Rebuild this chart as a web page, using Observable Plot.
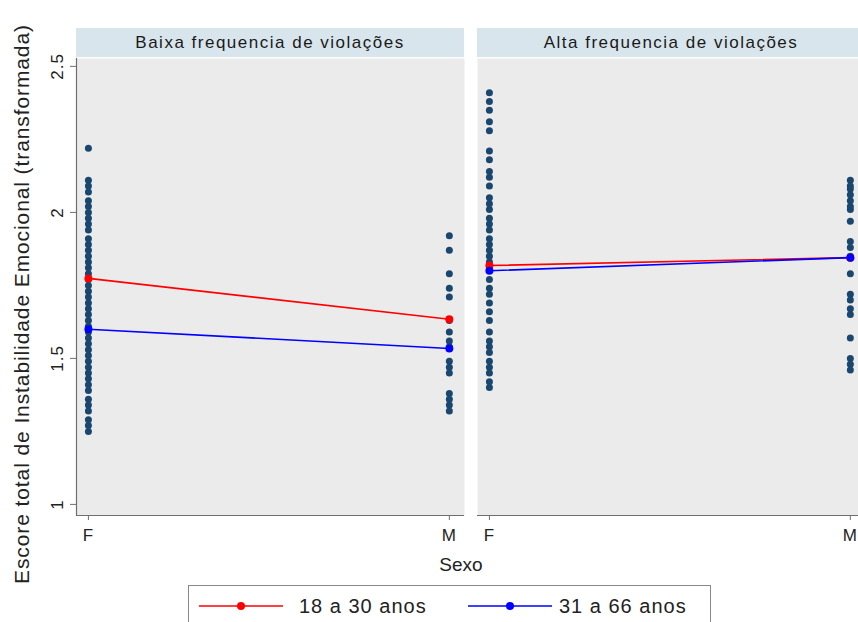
<!DOCTYPE html>
<html><head><meta charset="utf-8">
<script src="https://cdn.jsdelivr.net/npm/d3@7"></script>
<script src="https://cdn.jsdelivr.net/npm/@observablehq/plot@0.6"></script>
<style>
body{margin:0;background:#fff;overflow:hidden;font-family:"Liberation Sans",Arial,sans-serif}
#wrap{position:relative;width:858px;height:622px;overflow:hidden;background:#fff;color:#222}
.abs{position:absolute}
.strip{position:absolute;top:28px;height:29px;line-height:29px;background:#d9e5ec;color:#1a1a1a;font-size:17px;letter-spacing:1.5px;text-align:center;white-space:nowrap}
svg{overflow:visible}
</style></head><body><div id="wrap"></div>
<script>
// ---- data ----
const panels = ["Baixa frequencia de violações", "Alta frequencia de violações"];
const sexLabels = ["F", "M"];
const lowF = [2.22, 2.11, 2.09, 2.07, 2.04, 2.02, 2.00, 1.98, 1.96, 1.94, 1.91, 1.89, 1.87, 1.85, 1.83, 1.81, 1.79, 1.77, 1.75, 1.73, 1.71, 1.69, 1.67, 1.65, 1.63, 1.61, 1.59, 1.57, 1.55, 1.53, 1.51, 1.49, 1.47, 1.45, 1.43, 1.41, 1.39, 1.36, 1.34, 1.32, 1.29, 1.27, 1.25];
const lowM = [1.92, 1.87, 1.79, 1.74, 1.71, 1.63, 1.59, 1.56, 1.54, 1.49, 1.47, 1.45, 1.38, 1.36, 1.34, 1.32];
const highF = [2.41, 2.38, 2.35, 2.31, 2.28, 2.21, 2.18, 2.14, 2.12, 2.09, 2.05, 2.03, 2.01, 1.98, 1.96, 1.94, 1.91, 1.89, 1.87, 1.85, 1.83, 1.81, 1.77, 1.74, 1.72, 1.69, 1.66, 1.63, 1.59, 1.56, 1.54, 1.52, 1.49, 1.47, 1.45, 1.42, 1.40];
const highM = [2.11, 2.09, 2.08, 2.06, 2.04, 2.02, 2.01, 1.97, 1.90, 1.88, 1.85, 1.79, 1.72, 1.70, 1.67, 1.65, 1.57, 1.50, 1.48, 1.46];
const ageGroups = ["18 a 30 anos", "31 a 66 anos"];
const groupColors = ["#ff0000", "#0000ff"];
const lowMeansYoung = [1.774, 1.634];   // F, M
const lowMeansOld = [1.600, 1.534];
const highMeansYoung = [1.818, 1.845];
const highMeansOld = [1.800, 1.845];
const yTicks = [1, 1.5, 2, 2.5];
const yTickLabels = ["1", "1.5", "2", "2.5"];
const yDomain = [0.962, 2.527];
const xDomain = [-0.033, 1.042];
const xTicks = [0, 1];

const wrap = document.getElementById("wrap");
const dotColor = "#1a476f";
const axisColor = "#6f6f6f";

function buildPoints(fVals, mVals) {
  return [...fVals.map(v => ({x: 0, y: v})), ...mVals.map(v => ({x: 1, y: v}))];
}
function buildMeans(young, old) {
  const out = [];
  [young, old].forEach((arr, gi) => arr.forEach((v, si) => out.push({x: si, y: v, group: ageGroups[gi]})));
  return out;
}

function panel(points, means, showY, left, mLeft) {
  const marks = [
    Plot.frame({fill: "#ebebeb", stroke: null}),
    Plot.ruleY([yDomain[0]], {stroke: axisColor, strokeWidth: 1.2}),
  ];
  if (showY) {
    marks.push(Plot.ruleX([xDomain[0]], {stroke: axisColor, strokeWidth: 1.2}));
    marks.push(Plot.axisY({ticks: yTicks, tickSize: 6, tickFormat: () => "", stroke: axisColor, label: null}));
    marks.push(Plot.text(yTicks, {x: xDomain[0], y: d => d, text: (d, i) => yTickLabels[i], rotate: -90, dx: -19, fontSize: 17, fill: "#222", textAnchor: "middle"}));
  }
  marks.push(
    Plot.axisX({ticks: xTicks, tickFormat: d => sexLabels[d], tickSize: 5, tickPadding: 8, fontSize: 17, stroke: axisColor, fill: "#222", label: null}),
    Plot.dot(points, {x: "x", y: "y", r: 3.5, fill: dotColor, stroke: null}),
    Plot.line(means, {x: "x", y: "y", z: "group", stroke: "group", strokeWidth: 1.6}),
    Plot.dot(means, {x: "x", y: "y", fill: "group", r: 4, stroke: null})
  );
  const svg = Plot.plot({
    width: 388 + mLeft + 1,
    height: 545,
    marginLeft: mLeft,
    marginRight: 1,
    marginTop: 58,
    marginBottom: 30,
    x: {domain: xDomain, axis: null},
    y: {domain: yDomain, axis: null},
    color: {domain: ageGroups, range: groupColors},
    style: {background: "transparent", fontFamily: "Liberation Sans, Arial, sans-serif", overflow: "visible", letterSpacing: "1px"},
    marks
  });
  svg.style.position = "absolute";
  svg.style.left = left + "px";
  svg.style.top = "0px";
  wrap.appendChild(svg);
}

panel(buildPoints(lowF, lowM), buildMeans(lowMeansYoung, lowMeansOld), true, 0, 76);
panel(buildPoints(highF, highM), buildMeans(highMeansYoung, highMeansOld), false, 477, 0);

// facet strips
function strip(text, left, width) {
  const d = document.createElement("div");
  d.className = "strip";
  d.style.left = left + "px";
  d.style.width = width + "px";
  d.textContent = text;
  wrap.appendChild(d);
}
strip(panels[0], 76, 388);
strip(panels[1], 477, 388);

// y title
const yt = document.createElement("div");
yt.textContent = "Escore total de Instabilidade Emocional (transformada)";
yt.style.cssText = "position:absolute;left:22px;top:304px;font-size:21px;letter-spacing:0.9px;white-space:nowrap;transform:translate(-50%,-50%) rotate(-90deg);color:#222";
wrap.appendChild(yt);

// x title
const xt = document.createElement("div");
xt.textContent = "Sexo";
xt.style.cssText = "position:absolute;left:461px;top:565px;font-size:19px;white-space:nowrap;transform:translate(-50%,-50%);color:#222";
wrap.appendChild(xt);

// legend
const lg = document.createElement("div");
lg.style.cssText = "position:absolute;left:188px;top:585px;width:523px;height:50px;border:1px solid #888;background:#fff;box-sizing:border-box";
wrap.appendChild(lg);
const ns = "http://www.w3.org/2000/svg";
const items = [{x: 11, tx: 111}, {x: 280, tx: 371}];
const lsvg = document.createElementNS(ns, "svg");
lsvg.setAttribute("width", 523); lsvg.setAttribute("height", 50);
lsvg.style.position = "absolute"; lsvg.style.left = "-1px"; lsvg.style.top = "-1px";
ageGroups.forEach((g, i) => {
  const it = items[i];
  const line = document.createElementNS(ns, "line");
  line.setAttribute("x1", it.x); line.setAttribute("x2", it.x + 84);
  line.setAttribute("y1", 21); line.setAttribute("y2", 21);
  line.setAttribute("stroke", groupColors[i]); line.setAttribute("stroke-width", 1.6);
  lsvg.appendChild(line);
  const c = document.createElementNS(ns, "circle");
  c.setAttribute("cx", it.x + 42); c.setAttribute("cy", 21); c.setAttribute("r", 4);
  c.setAttribute("fill", groupColors[i]);
  lsvg.appendChild(c);
  const t = document.createElementNS(ns, "text");
  t.setAttribute("x", it.tx); t.setAttribute("y", 28);
  t.setAttribute("font-size", 20); t.setAttribute("fill", "#222");
  t.setAttribute("letter-spacing", "1px");
  t.setAttribute("font-family", "Liberation Sans, Arial, sans-serif");
  t.textContent = g;
  lsvg.appendChild(t);
});
lg.appendChild(lsvg);
</script></body></html>
